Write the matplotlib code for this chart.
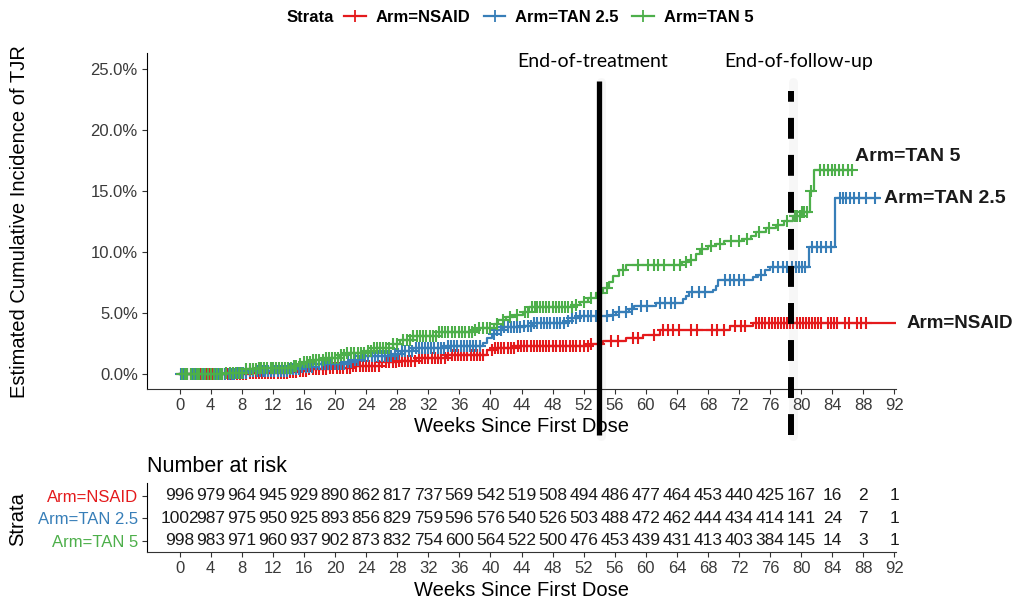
import numpy as np
import matplotlib
matplotlib.use("Agg")
import matplotlib.pyplot as plt
from matplotlib.lines import Line2D

# ==================================================
# DATA
# ==================================================

arms = ["Arm=NSAID", "Arm=TAN 2.5", "Arm=TAN 5"]
colors = ["#E41A1C", "#377EB8", "#4DAF4A"]

# step curves: event weeks and cumulative incidence (%) after each step
nsaid_t = [0, 9, 14, 15.4, 16.5, 19.3, 22, 25.7, 28, 30.4, 34.3, 39.6, 40.5,
           43.1, 52.8, 54.5, 57.5, 59.7, 61.8, 70.8, 73.8, 92.1]
nsaid_y = [0, 0.1, 0.15, 0.25, 0.35, 0.46, 0.6, 0.93, 1.05, 1.28, 1.5, 1.97,
           2.1, 2.24, 2.42, 2.65, 2.93, 3.2, 3.6, 3.88, 4.16, 4.16]

tan25_t = [0, 7.3, 9, 14.1, 15.5, 17.2, 21.5, 22.5, 23.2, 27.4, 28.5, 30,
           34.3, 39, 39.6, 40.2, 40.8, 41.5, 44.2, 45.5, 49.8, 50.5, 51.5,
           55.4, 56.2, 57.8, 58.5, 61.3, 64.8, 65.2, 65.6, 68.6, 69.0, 69.3,
           73.8, 74.5, 75.4, 76.0, 81.0, 84.4, 90.0]
tan25_y = [0, 0.1, 0.2, 0.38, 0.55, 0.82, 1.0, 1.15, 1.42, 1.6, 1.83, 2.1,
           2.24, 2.5, 2.9, 3.3, 3.6, 3.85, 3.95, 4.16, 4.35, 4.57, 4.75,
           4.85, 5.03, 5.3, 5.52, 5.8, 6.1, 6.34, 6.67, 6.9, 7.16, 7.65,
           7.9, 8.12, 8.5, 8.75, 10.4, 14.4, 14.4]

tan5_t = [0, 6.0, 8.5, 10, 14.5, 15.5, 16, 17.2, 18.5, 20.6, 21.5, 24, 25,
          27.4, 28.4, 30, 33.4, 37.7, 38.5, 40.4, 41, 42, 43, 44.2, 45, 50.6,
          51.5, 52.5, 53.6, 54.5, 55.2, 55.8, 56.6, 57.5, 64.7, 65.5, 66.4,
          67, 68, 69, 70, 72.4, 73.5, 74.2, 75.5, 76.7, 77.8, 79, 80, 81.1,
          81.7, 86.6]
tan5_y = [0, 0.1, 0.38, 0.47, 0.6, 0.8, 1.0, 1.15, 1.29, 1.5, 1.7, 1.9, 2.1,
          2.4, 2.8, 3.1, 3.4, 3.55, 3.75, 4.1, 4.4, 4.65, 4.85, 5.1, 5.45,
          5.6, 5.9, 6.2, 6.6, 7.0, 7.5, 8.0, 8.5, 8.95, 9.2, 9.35, 9.8, 10.2,
          10.45, 10.65, 10.85, 11.05, 11.26, 11.6, 11.95, 12.2, 12.5, 12.9,
          13.3, 14.95, 16.7, 16.7]

# censoring weeks
nsaid_cens = [0.3, 0.7, 1.0, 1.4, 1.8, 2.2, 2.6, 3.0, 3.4, 3.8, 4.2, 4.6,
              5.0, 5.4, 5.8, 6.2, 6.6, 7.0, 7.4, 7.8, 8.2, 8.6, 9.0, 9.4,
              9.8, 10.2, 10.6, 11.0, 11.4, 11.8, 12.2, 12.6, 13.0, 13.4,
              13.8, 14.2, 14.6, 15.0, 15.5, 15.9, 16.3, 16.7, 17.2, 17.6,
              18.0, 18.4, 18.8, 19.3, 19.8, 20.2, 20.6, 21.0, 21.5, 21.9,
              22.3, 22.7, 23.2, 23.6, 24.0, 24.4, 24.8, 25.2, 25.6, 26.0,
              26.5, 26.9, 27.4, 27.8, 28.2, 28.6, 29.0, 29.4, 29.8, 30.3,
              30.8, 31.2, 31.6, 32.0, 32.5, 32.9, 33.3, 33.7, 34.2, 34.6,
              35.0, 35.4, 35.8, 36.2, 36.6, 37.0, 37.5, 37.9, 38.3, 38.7,
              39.0, 40.2, 40.6, 41.0, 41.4, 41.8, 42.2, 42.6, 43.0, 43.5,
              43.9, 44.3, 44.7, 45.2, 45.6, 46.0, 46.4, 46.8, 47.2, 47.6,
              48.0, 48.5, 48.9, 49.3, 49.7, 50.2, 50.6, 51.0, 51.5, 52.0,
              52.5, 53.0, 54.0, 55.5, 56.4, 58.3, 59.0, 61.0, 62.2, 62.8,
              63.5, 64.3, 65.8, 66.6, 68.5, 69.2, 70.0, 71.5, 72.2, 72.8,
              74.2, 74.6, 75.0, 75.4, 75.8, 76.2, 76.6, 77.0, 77.4, 77.8,
              78.2, 78.6, 79.0, 79.4, 79.8, 80.2, 80.6, 81.0, 81.4, 81.8,
              82.2, 82.6, 83.4, 83.8, 84.2, 84.6, 85.6, 86.1, 87.2, 87.7,
              88.3]
tan25_cens = [0.2, 0.6, 1.0, 1.4, 1.7, 2.1, 2.5, 2.9, 3.2, 3.6, 4.0, 4.4,
              4.7, 5.1, 5.5, 5.9, 6.3, 6.7, 7.0, 7.4, 7.8, 8.2, 8.6, 9.0,
              9.5, 9.9, 10.3, 10.7, 11.0, 11.4, 11.8, 12.2, 12.6, 13.0,
              13.4, 13.8, 14.2, 14.6, 15.0, 15.4, 15.8, 16.2, 16.6, 17.0,
              17.5, 17.9, 18.3, 18.7, 19.1, 19.5, 20.0, 20.4, 20.8, 21.2,
              21.7, 22.1, 22.6, 23.0, 23.5, 23.9, 24.3, 24.7, 25.1, 25.5,
              26.0, 26.4, 26.8, 27.2, 27.7, 28.1, 28.6, 29.0, 29.5, 29.9,
              30.4, 30.8, 31.2, 31.6, 32.0, 32.4, 32.8, 33.2, 33.6, 34.0,
              34.5, 34.9, 35.3, 35.7, 36.2, 36.6, 37.0, 37.4, 37.8, 38.2,
              38.6, 40.5, 40.9, 41.3, 41.7, 42.2, 42.6, 43.0, 43.4, 43.8,
              44.3, 44.8, 45.2, 45.6, 46.0, 46.5, 46.9, 47.3, 47.7, 48.2,
              48.6, 49.0, 49.5, 50.0, 50.5, 51.0, 51.5, 52.0, 52.5, 53.0,
              53.6, 55.0, 55.8, 56.6, 57.4, 58.2, 59.4, 60.2, 61.8, 62.5,
              63.2, 63.8, 66.0, 66.8, 67.6, 70.2, 70.8, 71.4, 72.0, 72.6,
              74.8, 76.4, 77.0, 77.6, 78.2, 78.8, 79.3, 79.7, 80.1, 80.5,
              81.4, 82.0, 82.6, 83.2, 83.8, 85.0, 85.4, 85.8, 86.3, 86.8,
              87.5, 88.3, 89.5]
tan5_cens = [0.3, 0.7, 1.0, 1.4, 1.8, 2.2, 2.5, 2.9, 3.3, 3.7, 4.0, 4.4,
             4.8, 5.2, 5.5, 6.0, 6.5, 6.9, 7.2, 7.6, 8.0, 8.5, 9.0, 9.4, 9.8,
             10.2, 10.5, 10.9, 11.3, 11.7, 12.0, 12.4, 12.8, 13.2, 13.5,
             13.9, 14.3, 14.7, 15.0, 15.5, 16.0, 16.4, 16.8, 17.2, 17.6,
             18.0, 18.4, 18.8, 19.2, 19.6, 20.0, 20.4, 20.8, 21.2, 21.6,
             22.0, 22.5, 22.9, 23.3, 23.7, 24.2, 24.6, 25.0, 25.4, 25.8,
             26.2, 26.6, 27.0, 27.5, 28.0, 28.8, 29.2, 29.6, 30.0, 30.5,
             30.9, 31.3, 31.7, 32.2, 32.6, 33.0, 33.4, 33.8, 34.2, 34.6,
             35.0, 35.5, 35.9, 36.3, 36.7, 37.2, 37.6, 38.0, 38.5, 39.0,
             39.5, 40.0, 40.8, 41.6, 42.5, 43.4, 44.5, 44.9, 45.3, 45.7,
             46.0, 46.4, 46.8, 47.2, 47.6, 48.0, 48.4, 48.8, 49.2, 49.6,
             50.0, 50.5, 51.0, 52.0, 53.0, 54.2, 55.0, 57.0, 59.0, 60.3,
             61.0, 61.6, 62.3, 63.6, 64.4, 65.2, 65.8, 67.2, 68.4, 69.6,
             71.0, 72.0, 73.0, 74.6, 75.8, 77.0, 78.2, 79.2, 79.5, 79.8,
             80.1, 80.4, 80.7, 81.3, 82.4, 82.9, 83.4, 83.9, 84.4, 84.9,
             85.4, 86.0, 86.5]

# number at risk table
risk_weeks = list(range(0, 93, 4))
risk_nsaid = [996, 979, 964, 945, 929, 890, 862, 817, 737, 569, 542, 519,
              508, 494, 486, 477, 464, 453, 440, 425, 167, 16, 2, 1]
risk_tan25 = [1002, 987, 975, 950, 925, 893, 856, 829, 759, 596, 576, 540,
              526, 503, 488, 472, 462, 444, 434, 414, 141, 24, 7, 1]
risk_tan5 = [998, 983, 971, 960, 937, 902, 873, 832, 754, 600, 564, 522,
             500, 476, 453, 439, 431, 413, 403, 384, 145, 14, 3, 1]

end_treatment = 54.0
end_followup = 78.7

curves = [(nsaid_t, nsaid_y, nsaid_cens),
          (tan25_t, tan25_y, tan25_cens),
          (tan5_t, tan5_y, tan5_cens)]
risks = [risk_nsaid, risk_tan25, risk_tan5]

# ==================================================
# FIGURE
# ==================================================

plt.rcParams["font.family"] = ["Liberation Sans", "DejaVu Sans"]

W, H = 1017, 599
fig = plt.figure(figsize=(W / 100, H / 100), dpi=100)

def fx(px):
    return px / W

def fy(py):
    return 1 - py / H

ax = fig.add_axes([fx(147), fy(389), fx(896) - fx(147), fy(53) - fy(389)])

for (t, y, cens), col in zip(curves, colors):
    ax.plot(t, y, drawstyle="steps-post", color=col, lw=1.6, zorder=3)
    cy = np.array(y)[np.searchsorted(t, cens, side="right") - 1]
    ax.plot(cens, cy, ls="none", marker="+", ms=8.5, mew=1.5,
            color=col, zorder=3)

ax.set_xlim(-4.2, 92.2)
ax.set_ylim(-1.25, 26.3)
ax.set_xticks(risk_weeks)
ax.set_yticks([0, 5, 10, 15, 20, 25])
ax.set_yticklabels([f"{v:.1f}%" for v in [0, 5, 10, 15, 20, 25]])
for s in ["top", "right"]:
    ax.spines[s].set_visible(False)
ax.spines["left"].set_color("black")
ax.spines["bottom"].set_color("#333333")
ax.tick_params(labelsize=12, colors="#333333", length=3.6, pad=3)
for lab in ax.get_xticklabels() + ax.get_yticklabels():
    lab.set_color("#3a3a3a")

# curve end labels
ax.text(86.9, 17.8, "Arm=TAN 5", fontsize=14, fontweight="bold",
        color="#1a1a1a", va="center", ha="left", clip_on=False)
ax.text(90.7, 14.4, "Arm=TAN 2.5", fontsize=14, fontweight="bold",
        color="#1a1a1a", va="center", ha="left", clip_on=False)
ax.text(93.5, 4.15, "Arm=NSAID", fontsize=13.5, fontweight="bold",
        color="#1a1a1a", va="center", ha="left", clip_on=False)

# treatment / follow-up markers, with a faint shadow
for xv in [end_treatment, end_followup]:
    ax.plot([xv + 0.2, xv + 0.2], [-5.1, 23.9], color="#999999",
            lw=6.5, alpha=0.07, clip_on=False, zorder=4,
            solid_capstyle="round")
ax.plot([end_treatment, end_treatment], [-5.0, 24.0], color="black",
        lw=3.8, clip_on=False, zorder=5, solid_capstyle="butt")
ax.plot([end_followup, end_followup], [-5.0, 23.2], color="black",
        lw=4.3, clip_on=False, zorder=5, dashes=(3.5, 2.7),
        dash_capstyle="butt")
ax.text(53.1, 25.6, "End-of-treatment", fontsize=14, ha="center",
        va="center", family=["Lato", "DejaVu Sans"], clip_on=False)
ax.text(79.7, 25.6, "End-of-follow-up", fontsize=14, ha="center",
        va="center", family=["Lato", "DejaVu Sans"], clip_on=False)

fig.text(fx(19.5), fy(222), "Estimated Cumulative Incidence of TJR",
         rotation=90, ha="center", va="center", fontsize=14.5)
fig.text(fx(521), fy(427), "Weeks Since First Dose", ha="center",
         va="center", fontsize=14.5)

# legend
fig.text(fx(287), fy(17), "Strata", ha="left", va="center", fontsize=12,
         fontweight="bold")
handles = [Line2D([0], [0], color=c, lw=1.6, marker="+", ms=9, mew=1.3)
           for c in colors]
leg = fig.legend(handles, arms, loc="center left",
                 bbox_to_anchor=(fx(344), fy(17)), ncol=3, frameon=False,
                 fontsize=12, handlelength=1.3, handletextpad=0.6,
                 columnspacing=0.8, borderpad=0, borderaxespad=0)
for txt in leg.get_texts():
    txt.set_fontweight("bold")

# ==================================================
# NUMBER AT RISK TABLE
# ==================================================

ax2 = fig.add_axes([fx(147), fy(552), fx(896) - fx(147), fy(483) - fy(552)])
rows = [3, 2, 1]
for r, vals in zip(rows, risks):
    for w, n in zip(risk_weeks, vals):
        ax2.text(w, r, str(n), ha="center", va="center", fontsize=12.5,
                 color="#1a1a1a")

ax2.set_xlim(-4.2, 92.2)
ax2.set_ylim(0.5, 3.58)
ax2.set_xticks(risk_weeks)
ax2.set_yticks(rows)
ax2.set_yticklabels(arms)
for s in ["top", "right"]:
    ax2.spines[s].set_visible(False)
ax2.spines["left"].set_color("black")
ax2.spines["bottom"].set_color("#333333")
ax2.tick_params(labelsize=12, colors="#333333", length=3.6, pad=3)
for lab in ax2.get_xticklabels():
    lab.set_color("#3a3a3a")
for lab, c in zip(ax2.get_yticklabels(), colors):
    lab.set_color(c)

fig.text(fx(147), fy(466), "Number at risk", ha="left", va="center",
         fontsize=15.5)
fig.text(fx(18), fy(519), "Strata", rotation=90, ha="center", va="center",
         fontsize=14.5)
fig.text(fx(521), fy(590), "Weeks Since First Dose", ha="center",
         va="center", fontsize=14.5)

fig.savefig("out.png", dpi=100)
